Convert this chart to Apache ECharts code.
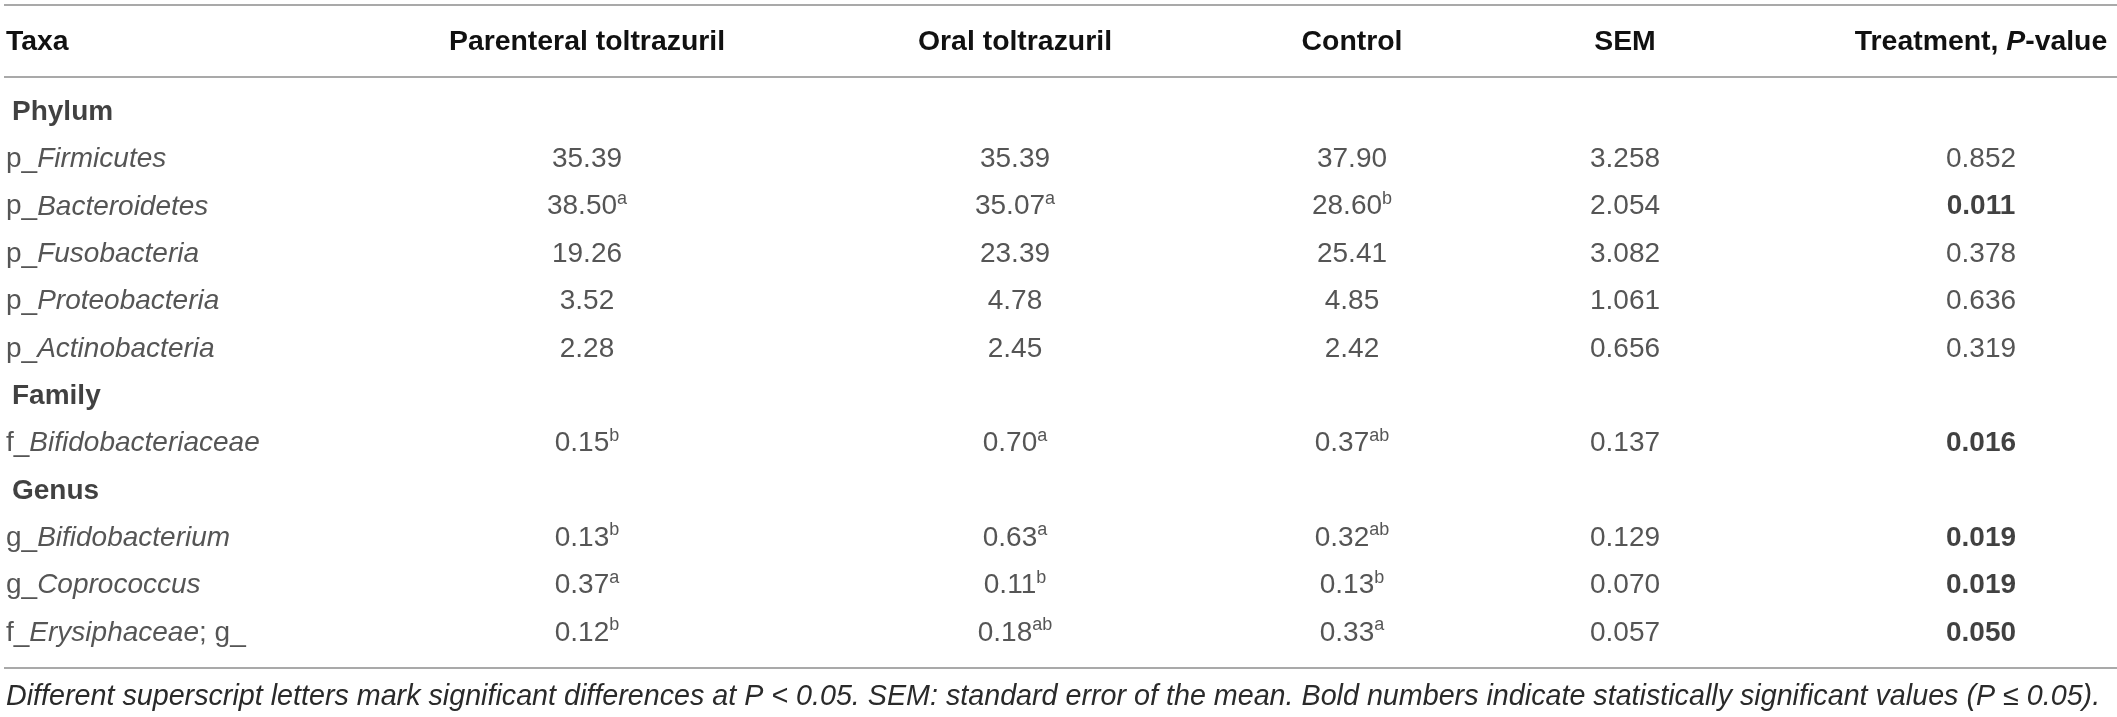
<!DOCTYPE html>
<html>
<head>
<meta charset="utf-8">
<script src="https://cdn.jsdelivr.net/npm/echarts@6/dist/echarts.min.js"></script>
<style>
  html, body { margin: 0; padding: 0; background: #fff; }
  #taxa_table_chart { width: 2117px; height: 717px; }
</style>
</head>
<body>
<div id="taxa_table_chart"></div>
<script>
// column headings
var headers = ["Taxa", "Parenteral toltrazuril", "Oral toltrazuril", "Control", "SEM", "Treatment, P-value"];

// row labels: one item = group heading, otherwise [prefix, italic name, suffix]
var taxa = [
  ["Phylum"],
  ["p_", "Firmicutes"],
  ["p_", "Bacteroidetes"],
  ["p_", "Fusobacteria"],
  ["p_", "Proteobacteria"],
  ["p_", "Actinobacteria"],
  ["Family"],
  ["f_", "Bifidobacteriaceae"],
  ["Genus"],
  ["g_", "Bifidobacterium"],
  ["g_", "Coprococcus"],
  ["f_", "Erysiphaceae", "; g_"]
];

// relative abundance (%), null on heading rows
var parenteral = [null, 35.39, 38.50, 19.26, 3.52, 2.28, null, 0.15, null, 0.13, 0.37, 0.12];
var oral       = [null, 35.39, 35.07, 23.39, 4.78, 2.45, null, 0.70, null, 0.63, 0.11, 0.18];
var control    = [null, 37.90, 28.60, 25.41, 4.85, 2.42, null, 0.37, null, 0.32, 0.13, 0.33];
var sem        = [null, 3.258, 2.054, 3.082, 1.061, 0.656, null, 0.137, null, 0.129, 0.070, 0.057];
var pValues    = [null, 0.852, 0.011, 0.378, 0.636, 0.319, null, 0.016, null, 0.019, 0.019, 0.050];

// superscript letters
var parenteralSup = ["", "", "a", "", "", "", "", "b", "", "b", "a", "b"];
var oralSup       = ["", "", "a", "", "", "", "", "a", "", "a", "b", "ab"];
var controlSup    = ["", "", "b", "", "", "", "", "ab", "", "ab", "b", "a"];

var footnote = "Different superscript letters mark significant differences at P < 0.05. SEM: standard error of the mean. Bold numbers indicate statistically significant values (P \u2264 0.05).";

var FONT = '"Liberation Sans", Arial, Helvetica, sans-serif';
var INK = "#2a2a2a";
var RULE = "#a9a9a9";

var rich = {
  n:   { fontFamily: FONT, fontSize: 28, color: INK, lineHeight: 34 },
  i:   { fontFamily: FONT, fontSize: 28, color: INK, lineHeight: 34, fontStyle: "italic" },
  b:   { fontFamily: FONT, fontSize: 28, color: "#111", lineHeight: 34, fontWeight: "bold" },
  g:   { fontFamily: FONT, fontSize: 28, color: "#111", lineHeight: 34, fontWeight: "bold", padding: [0, 0, 0, 6] },
  h:   { fontFamily: FONT, fontSize: 28.4, color: "#111", lineHeight: 34, fontWeight: "bold" },
  hi:  { fontFamily: FONT, fontSize: 28.4, color: "#111", lineHeight: 34, fontWeight: "bold", fontStyle: "italic" },
  sup: { fontFamily: FONT, fontSize: 18, color: INK, lineHeight: 18, verticalAlign: "top" }
};

function taxaText(parts) {
  if (parts.length === 1) return "{g|" + parts[0] + "}";
  return "{n|" + parts[0] + "}{i|" + parts[1] + "}" + (parts[2] ? "{n|" + parts[2] + "}" : "");
}

function headerText(s) {
  if (s.indexOf("P-value") >= 0) return "{h|" + s.replace("P-value", "") + "}{hi|P}{h|-value}";
  return "{h|" + s + "}";
}

// layout of the columns (pixel centres), kept apart from data
var columnLayout = [
  { left: 4, width: 4, align: "left" },
  { center: 587, align: "center" },
  { center: 1015, align: "center" },
  { center: 1352, align: "center" },
  { center: 1625, align: "center" },
  { center: 1981, align: "center" }
];

var columns = [
  null,
  { values: parenteral, sup: parenteralSup, digits: 2 },
  { values: oral, sup: oralSup, digits: 2 },
  { values: control, sup: controlSup, digits: 2 },
  { values: sem, sup: null, digits: 3 },
  { values: pValues, sup: null, digits: 3, boldBelow: 0.05 }
];

var rowKeys = taxa.map(function (t) { return t.join(""); });

var grids = [], xAxes = [], yAxes = [], series = [];

columnLayout.forEach(function (col, ci) {
  var w = col.width || 240;
  var left = col.center !== undefined ? col.center - w / 2 : col.left;
  grids.push({ left: left, width: w, top: 88.3, height: 568.4 });

  xAxes.push({
    gridIndex: ci,
    type: "category",
    position: "top",
    data: [headers[ci]],
    axisLine: { show: false },
    axisTick: { show: false },
    splitLine: { show: false },
    axisLabel: {
      margin: 46,
      align: col.align,
      verticalAlign: "middle",
      formatter: function (v) { return headerText(v); },
      rich: rich
    }
  });

  yAxes.push({
    gridIndex: ci,
    type: "category",
    inverse: true,
    data: rowKeys,
    show: false
  });

  var data = [];
  taxa.forEach(function (t, ri) {
    var txt;
    if (ci === 0) {
      txt = taxaText(t);
    } else {
      var c = columns[ci];
      var v = c.values[ri];
      if (v === null) return;
      var s = v.toFixed(c.digits);
      if (c.boldBelow !== undefined && v <= c.boldBelow) txt = "{b|" + s + "}";
      else txt = "{n|" + s + "}";
      if (c.sup && c.sup[ri]) txt += "{sup|" + c.sup[ri] + "}";
    }
    data.push({ value: [0, ri], text: txt });
  });

  series.push({
    type: "scatter",
    xAxisIndex: ci,
    yAxisIndex: ci,
    symbolSize: 0,
    silent: true,
    data: data,
    label: {
      show: true,
      position: "inside",
      align: col.align,
      verticalAlign: "middle",
      formatter: function (p) { return p.data.text; },
      rich: rich
    }
  });
});

var option = {
  animation: false,
  backgroundColor: "#ffffff",
  grid: grids,
  xAxis: xAxes,
  yAxis: yAxes,
  series: series,
  graphic: [
    { type: "line", shape: { x1: 4, y1: 5, x2: 2117, y2: 5 }, style: { stroke: RULE, lineWidth: 2 } },
    { type: "line", shape: { x1: 4, y1: 77, x2: 2117, y2: 77 }, style: { stroke: RULE, lineWidth: 2 } },
    { type: "line", shape: { x1: 4, y1: 668, x2: 2117, y2: 668 }, style: { stroke: RULE, lineWidth: 2 } },
    {
      type: "text",
      x: 6,
      y: 697,
      style: {
        text: footnote,
        fontFamily: FONT,
        fontSize: 28.7,
        fontStyle: "italic",
        fill: INK,
        verticalAlign: "middle"
      }
    }
  ]
};

var tableChart = echarts.init(document.getElementById("taxa_table_chart"));
tableChart.setOption(option);
</script>
</body>
</html>
